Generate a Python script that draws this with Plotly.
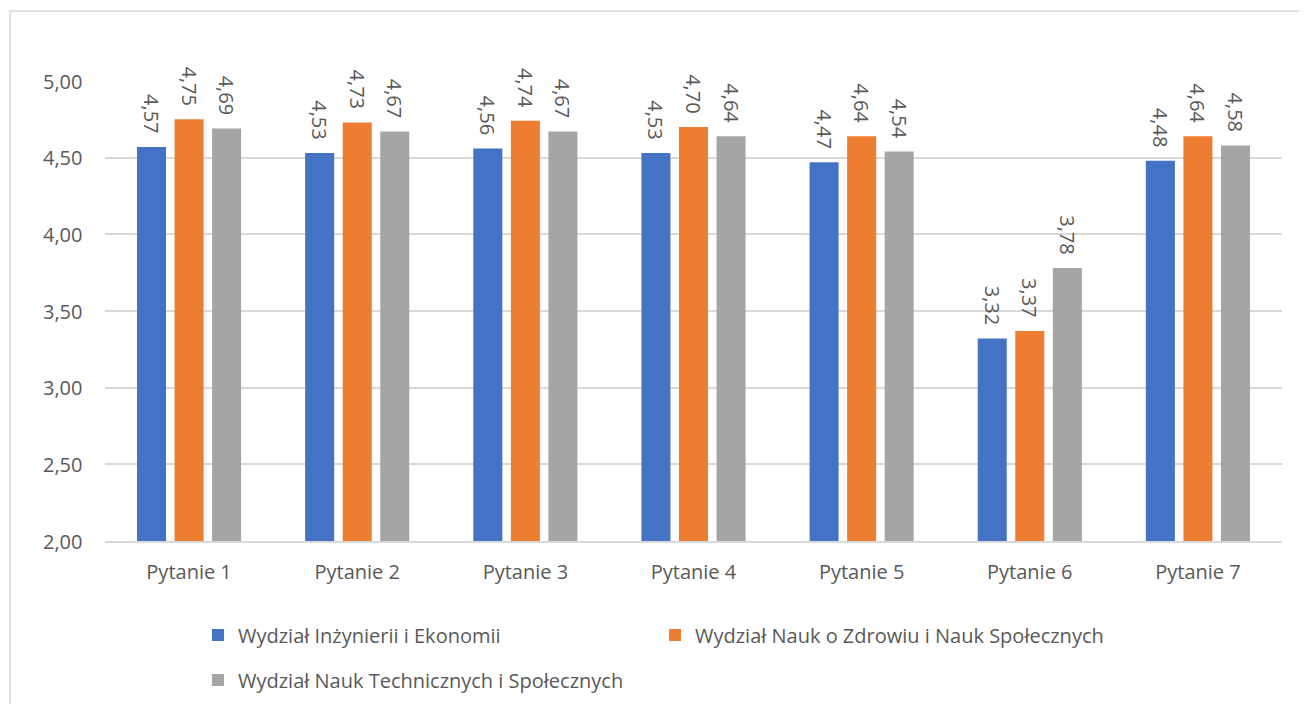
import plotly.graph_objects as go

categories = ["Pytanie 1", "Pytanie 2", "Pytanie 3", "Pytanie 4", "Pytanie 5", "Pytanie 6", "Pytanie 7"]
series_names = [
    "Wydział Inżynierii i Ekonomii",
    "Wydział Nauk o Zdrowiu i Nauk Społecznych",
    "Wydział Nauk Technicznych i Społecznych",
]
ie_values = [4.57, 4.53, 4.56, 4.53, 4.47, 3.32, 4.48]
nzns_values = [4.75, 4.73, 4.74, 4.70, 4.64, 3.37, 4.64]
nts_values = [4.69, 4.67, 4.67, 4.64, 4.54, 3.78, 4.58]
y_ticks = [2.0, 2.5, 3.0, 3.5, 4.0, 4.5, 5.0]

colors = ["#4472C4", "#ED7D31", "#A5A5A5"]
FONT = "Open Sans, sans-serif"
TXT = "#595959"
FS = 20

OFF = 8  # page body margin
W, H = 1307 - OFF, 704 - OFF
# plot area in page pixels
L, R, T, B = 105, 1282, 81, 541
Lf, Rf, Tf, Bf = L - OFF, R - OFF, T - OFF, B - OFF

pw, ph = R - L, B - T
def px_x(px):
    return (px - L) / pw
def px_y(py):
    return (B - py) / ph

legend_ids = ["legend", "legend", "legend2"]

fig = go.Figure()
for name, vals, col, lg in zip(series_names, [ie_values, nzns_values, nts_values], colors, legend_ids):
    fig.add_trace(go.Bar(
        x=categories, y=vals, name=name, legend=lg,
        marker=dict(color=col, line=dict(width=0)),
        texttemplate="%{y:.2f}\u00a0\u00a0", textposition="outside", textangle=90,
        constraintext="none",
        textfont=dict(family=FONT, size=FS, color=TXT),
        cliponaxis=False,
    ))

# y tick labels as annotations anchored to the axis values (comma decimals)
for v in y_ticks:
    fig.add_annotation(x=0, xref="paper", y=v, yref="y", xanchor="right", yanchor="middle",
                       xshift=-21, showarrow=False,
                       text=f"{v:.2f}".replace(".", ","),
                       font=dict(family=FONT, size=FS, color=TXT))

legend_common = dict(orientation="h", xanchor="left", yanchor="middle",
                     entrywidth=412, entrywidthmode="pixels",
                     font=dict(family=FONT, size=FS, color=TXT), itemwidth=30,
                     bgcolor="rgba(0,0,0,0)")

fig.update_layout(
    width=W, height=H,
    margin=dict(l=Lf, r=W - Rf, t=Tf, b=H - Bf, autoexpand=False),
    paper_bgcolor="white", plot_bgcolor="white",
    separators=", ",
    barmode="group", bargap=0.33, bargroupgap=0.227,
    font=dict(family=FONT, size=FS, color=TXT),
    xaxis=dict(showgrid=False, showline=True, linecolor="#D9D9D9", linewidth=1.5,
               ticks="", tickfont=dict(size=FS, color=TXT), ticklabelstandoff=12),
    yaxis=dict(range=[2, 5], tickvals=y_ticks, showticklabels=False,
               showgrid=True, gridcolor="#D9D9D9", gridwidth=1.5,
               zeroline=False, showline=False, ticks=""),
    legend=dict(x=px_x(198), y=px_y(635), **legend_common),
    legend2=dict(x=px_x(198), y=px_y(680), **legend_common),
    showlegend=True,
    shapes=[dict(type="rect", xref="paper", yref="paper",
                 x0=px_x(10), x1=px_x(1330),
                 y0=px_y(730), y1=px_y(11),
                 line=dict(color="#D9D9D9", width=1.5), fillcolor="rgba(0,0,0,0)",
                 layer="below")],
)

fig.write_html("out.html")
